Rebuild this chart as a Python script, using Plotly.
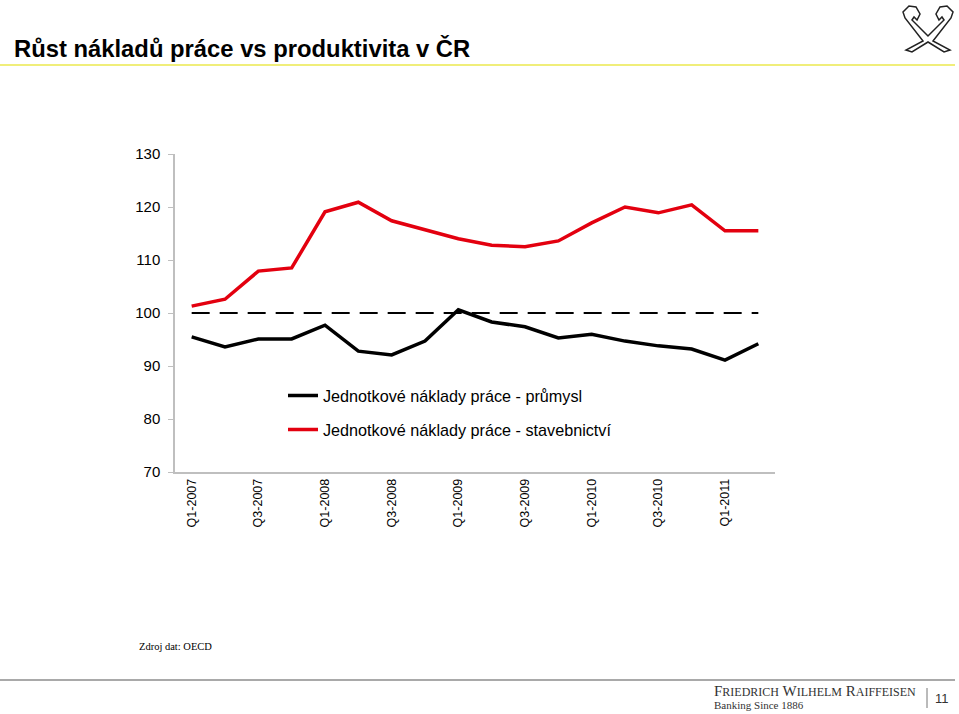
import plotly.graph_objects as go

quarters = ["Q1-2007", "Q2-2007", "Q3-2007", "Q4-2007",
            "Q1-2008", "Q2-2008", "Q3-2008", "Q4-2008",
            "Q1-2009", "Q2-2009", "Q3-2009", "Q4-2009",
            "Q1-2010", "Q2-2010", "Q3-2010", "Q4-2010",
            "Q1-2011", "Q2-2011"]
tick_labels = ["Q1-2007", "Q3-2007", "Q1-2008", "Q3-2008", "Q1-2009",
               "Q3-2009", "Q1-2010", "Q3-2010", "Q1-2011"]
prumysl = [95.5, 93.6, 95.1, 95.1, 97.7, 92.8, 92.1, 94.7, 100.6,
           98.3, 97.4, 95.3, 96.0, 94.7, 93.8, 93.2, 91.1, 94.2]
stavebnictvi = [101.3, 102.6, 107.9, 108.5, 119.1, 120.9, 117.4, 115.7, 114.0,
                112.8, 112.5, 113.6, 117.0, 120.0, 118.9, 120.4, 115.5, 115.5]
baseline = [100] * len(quarters)

idx = list(range(len(quarters)))
tick_idx = [quarters.index(t) for t in tick_labels]


def py(y):
    return 1 - (y - 154) / 318


def pxx(x):
    return (x - 175) / 600


fig = go.Figure()
fig.add_trace(go.Scatter(x=idx, y=baseline, mode="lines", showlegend=False,
                         line=dict(color="black", width=2, dash="18px,10px"),
                         hoverinfo="skip"))
fig.add_trace(go.Scatter(x=idx, y=prumysl, mode="lines",
                         name="Jednotkové náklady práce - průmysl",
                         line=dict(color="black", width=3.5), legend="legend"))
fig.add_trace(go.Scatter(x=idx, y=stavebnictvi, mode="lines",
                         name="Jednotkové náklady práce - stavebnictví",
                         line=dict(color="#e3000f", width=3.5), legend="legend2"))

leg_common = dict(xanchor="left", yanchor="middle", bgcolor="rgba(0,0,0,0)",
                  font=dict(size=16.2), itemwidth=30)

fig.update_layout(
    width=959, height=714,
    paper_bgcolor="white", plot_bgcolor="white",
    margin=dict(l=175, r=184, t=154, b=242),
    font=dict(family="Liberation Sans, Arial, sans-serif", color="black"),
    legend=dict(x=pxx(283), y=py(396), **leg_common),
    legend2=dict(x=pxx(283), y=py(430), **leg_common),
    xaxis=dict(range=[-0.5, 17.5], tickmode="array", tickvals=tick_idx,
               ticktext=tick_labels, tickangle=-90, tickfont=dict(size=12.5),
               showgrid=False, zeroline=False, showline=True,
               linecolor="#bfbfbf", linewidth=1.5, ticks="", fixedrange=True),
    yaxis=dict(range=[70, 130], tickvals=[70, 80, 90, 100, 110, 120, 130],
               tickfont=dict(size=15), showgrid=False, zeroline=False,
               showline=True, linecolor="#bfbfbf", linewidth=1.5,
               ticks="outside", ticklen=5, tickcolor="#bfbfbf", ticklabelstandoff=5),
    showlegend=True,
)

# Title
fig.add_annotation(text="<b>Růst nákladů práce vs produktivita v ČR</b>",
                   xref="paper", yref="paper", x=pxx(12), y=py(48),
                   xanchor="left", yanchor="middle", showarrow=False,
                   font=dict(size=23.8, family="Liberation Sans, Arial, sans-serif"))
# Yellow line under title
fig.add_shape(type="line", xref="paper", yref="paper",
              x0=pxx(0), x1=pxx(955), y0=py(65), y1=py(65),
              line=dict(color="#f0ee7a", width=2))
# Bottom gray line
fig.add_shape(type="line", xref="paper", yref="paper",
              x0=pxx(0), x1=pxx(955), y0=py(680), y1=py(680),
              line=dict(color="#8c8c8c", width=1.5))

# Source
fig.add_annotation(text="Zdroj dat: OECD", xref="paper", yref="paper",
                   x=pxx(137), y=py(646), xanchor="left", yanchor="middle",
                   showarrow=False,
                   font=dict(size=10.5, family="Liberation Serif, Times New Roman, serif"))
# Footer brand
fig.add_annotation(text="F<span style='font-size:12px'>RIEDRICH</span> W<span style='font-size:12px'>ILHELM</span> R<span style='font-size:12px'>AIFFEISEN</span>",
                   xref="paper", yref="paper",
                   x=pxx(712), y=py(691), xanchor="left", yanchor="middle",
                   showarrow=False,
                   font=dict(size=15, color="#333333",
                             family="Liberation Serif, Times New Roman, serif"))
fig.add_annotation(text="Banking Since 1886", xref="paper", yref="paper",
                   x=pxx(712), y=py(705), xanchor="left", yanchor="middle",
                   showarrow=False,
                   font=dict(size=11, color="#333333",
                             family="Liberation Serif, Times New Roman, serif"))
fig.add_shape(type="line", xref="paper", yref="paper",
              x0=pxx(927), x1=pxx(927), y0=py(688), y1=py(708),
              line=dict(color="#777777", width=1))
fig.add_annotation(text="11", xref="paper", yref="paper",
                   x=pxx(942), y=py(698), xanchor="center", yanchor="middle",
                   showarrow=False,
                   font=dict(size=13, color="#333333"))

# Logo (crossed gables)
logo_pts = [(903, 12), (909, 6), (916, 7), (920, 14), (917, 20), (914, 17),
            (912, 20), (928, 36), (944, 20), (942, 17), (939, 20), (936, 14),
            (940, 7), (947, 6), (953, 12), (951, 18), (933, 41), (950, 50),
            (944, 52), (928, 42), (912, 52), (906, 50), (923, 41), (905, 18)]
path = "M " + " L ".join(f"{pxx(x):.4f},{py(y):.4f}" for x, y in logo_pts) + " Z"
fig.add_shape(type="path", xref="paper", yref="paper", path=path,
              line=dict(color="#222222", width=1.5), fillcolor="white")

fig.write_html("out.html")
